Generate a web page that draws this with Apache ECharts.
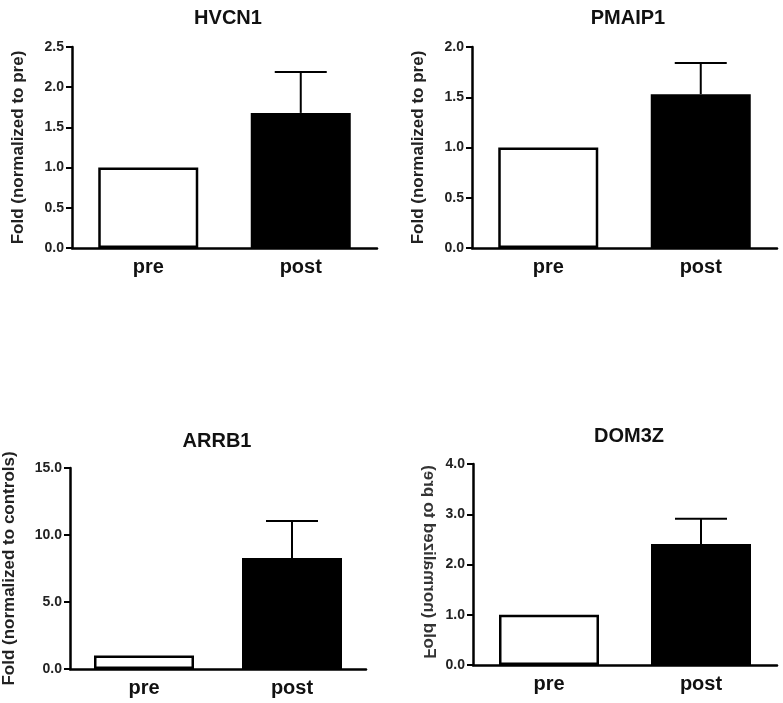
<!DOCTYPE html>
<html>
<head>
<meta charset="utf-8">
<script src="https://cdn.jsdelivr.net/npm/echarts@6/dist/echarts.min.js"></script>
<style>html,body{margin:0;padding:0;background:#fff}#c{width:783px;height:703px}</style>
</head>
<body>
<div id="c"></div>
<script>
const categories = ['pre', 'post'];
const titles = ['HVCN1', 'PMAIP1', 'ARRB1', 'DOM3Z'];
const yNames = ['Fold (normalized to pre)', 'Fold (normalized to pre)', 'Fold (normalized to controls)', 'Fold (normalized to pre)'];
const hvcn1Mean = [1.0, 1.68];
const hvcn1Err = [0, 0.51];
const pmaip1Mean = [1.0, 1.53];
const pmaip1Err = [0, 0.31];
const arrb1Mean = [1.0, 8.28];
const arrb1Err = [0, 2.76];
const dom3zMean = [1.0, 2.41];
const dom3zErr = [0, 0.50];
const yMax = [2.5, 2.0, 15.0, 4.0];
const yStep = [0.5, 0.5, 5.0, 1.0];

const means = [hvcn1Mean, pmaip1Mean, arrb1Mean, dom3zMean];
const errs = [hvcn1Err, pmaip1Err, arrb1Err, dom3zErr];

const FONT = '"Liberation Sans", Arial, sans-serif';
const grids = [
  {left: 72, top: 47, width: 305, height: 201},
  {left: 472, top: 47, width: 305, height: 201},
  {left: 62, top: 468, width: 304, height: 201},
  {left: 473, top: 464, width: 304, height: 201}
];
const titlePos = [[223, 3], [623, 3], [212, 426], [624, 421]];
const nameGaps = [45, 45, 52, 45];

const chart = echarts.init(document.getElementById('c'), null, {renderer: 'canvas'});

const option = {
  backgroundColor: '#fff',
  animation: false,
  title: titles.map((t, i) => ({
    text: t, left: titlePos[i][0], top: titlePos[i][1], textAlign: 'center',
    textStyle: {fontFamily: FONT, fontWeight: 'bold', fontSize: 20, color: '#111'}
  })),
  grid: grids,
  xAxis: grids.map((g, i) => ({
    type: 'category', gridIndex: i, data: categories,
    axisLine: {lineStyle: {color: '#000', width: 2.5}},
    axisTick: {alignWithLabel: true, length: 6, lineStyle: {color: '#000', width: 2}},
    axisLabel: {fontFamily: FONT, fontWeight: 'bold', fontSize: 20, color: '#111', margin: 9},
    splitLine: {show: false}
  })),
  yAxis: grids.map((g, i) => ({
    type: 'value', gridIndex: i, min: 0, max: yMax[i], interval: yStep[i],
    name: i === 3 ? '' : yNames[i], nameLocation: 'middle', nameGap: nameGaps[i],
    nameTextStyle: {fontFamily: FONT, fontWeight: 'bold', fontSize: 17, color: '#222'},
    axisLine: {show: true, lineStyle: {color: '#000', width: 2.5}},
    axisTick: {show: true, length: 6, lineStyle: {color: '#000', width: 2}},
    axisLabel: {fontFamily: FONT, fontWeight: 'bold', fontSize: 14, color: '#222', margin: 8,
      formatter: v => v.toFixed(1)},
    splitLine: {show: false}
  })),
  graphic: [{
    type: 'text',
    x: 429, y: 562,
    rotation: Math.PI / 2,
    scaleY: -1,
    style: {text: yNames[3], font: 'bold 17px ' + FONT, fill: '#333', align: 'center', verticalAlign: 'middle'}
  }],
  series: []
};

means.forEach((m, i) => {
  option.series.push({
    type: 'bar', xAxisIndex: i, yAxisIndex: i, barWidth: 100,
    data: m.map((v, j) => ({value: v, itemStyle: {color: j === 0 ? '#fff' : '#000', borderColor: '#000', borderWidth: 2.5}})),
    z: 2
  });
  option.series.push({
    type: 'custom', xAxisIndex: i, yAxisIndex: i, z: 3,
    data: m.map((v, j) => [j, v, errs[i][j]]),
    renderItem: function (params, api) {
      const x = api.value(0), mv = api.value(1), e = api.value(2);
      if (!e) return null;
      const p0 = api.coord([x, mv]);
      const p1 = api.coord([x, mv + e]);
      const hw = 26;
      return {
        type: 'group',
        children: [
          {type: 'line', shape: {x1: p0[0], y1: p0[1], x2: p1[0], y2: p1[1]}, style: {stroke: '#000', lineWidth: 2}},
          {type: 'line', shape: {x1: p1[0] - hw, y1: p1[1], x2: p1[0] + hw, y2: p1[1]}, style: {stroke: '#000', lineWidth: 2}}
        ]
      };
    }
  });
});

chart.setOption(option);
</script>
</body>
</html>
